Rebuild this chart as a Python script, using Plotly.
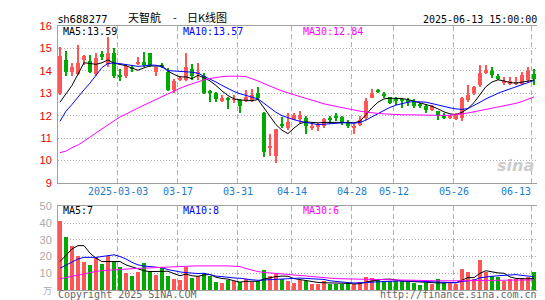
import plotly.graph_objects as go

# ---------------- data ----------------
dates = ["02-17","02-18","02-19","02-20","02-21","02-24","02-25","02-26","02-27","02-28",
         "03-03","03-04","03-05","03-06","03-07","03-10","03-11","03-12","03-13","03-14",
         "03-17","03-18","03-19","03-20","03-21","03-24","03-25","03-26","03-27","03-28",
         "03-31","04-01","04-02","04-03","04-07","04-08","04-09","04-10","04-11","04-14",
         "04-15","04-16","04-17","04-18","04-21","04-22","04-23","04-24","04-25","04-28",
         "04-29","04-30","05-06","05-07","05-08","05-09","05-12","05-13","05-14","05-15",
         "05-16","05-19","05-20","05-21","05-22","05-23","05-26","05-27","05-28","05-29",
         "05-30","06-03","06-04","06-05","06-06","06-09","06-10","06-11","06-12","06-13"]

opens = [13.01,14.49,13.93,13.85,14.49,14.44,13.85,14.75,14.31,14.81,
         13.82,13.75,14.16,14.32,14.41,14.81,13.93,14.26,13.97,13.16,
         13.61,13.60,14.07,13.87,13.79,13.10,12.99,12.66,12.75,12.70,
         12.70,12.67,12.67,13.02,12.11,10.60,10.20,11.60,11.44,11.82,
         11.86,11.90,11.45,11.50,11.55,11.87,11.96,11.94,11.70,11.48,
         11.60,11.90,12.80,13.12,12.95,12.83,12.72,12.72,12.68,12.63,
         12.50,12.41,12.26,12.19,12.03,11.92,11.86,11.90,12.70,13.00,
         13.38,13.90,13.98,13.77,13.50,13.40,13.45,13.43,13.60,13.87]
closes = [14.66,13.97,14.16,14.37,14.66,13.97,14.59,14.60,14.81,13.75,
          13.75,14.22,14.07,14.35,14.26,14.22,14.15,14.16,13.16,13.53,
          13.65,14.15,13.75,13.90,13.01,13.05,12.73,12.77,12.70,12.73,
          12.45,12.82,12.92,12.77,10.38,10.65,11.40,11.55,11.70,12.04,
          12.01,11.53,11.55,11.53,11.85,11.83,11.92,11.67,11.53,11.50,
          11.82,12.66,12.99,13.08,12.90,12.58,12.68,12.68,12.65,12.44,
          12.47,12.26,12.41,11.97,11.91,11.94,12.03,12.81,12.92,13.26,
          13.90,14.02,13.80,13.65,13.52,13.55,13.47,13.83,13.99,13.65]
highs = [15.07,14.90,14.34,15.15,14.70,14.70,14.81,14.90,15.51,15.00,
         14.07,14.26,14.26,14.63,14.85,14.81,14.19,14.34,14.12,13.63,
         13.75,14.81,14.29,14.34,13.90,13.14,13.05,12.90,12.85,12.92,
         12.75,13.14,13.17,13.30,12.15,11.20,11.40,11.94,12.11,12.11,
         12.19,11.97,11.67,11.67,11.90,12.00,12.11,12.00,11.82,11.64,
         12.00,12.77,13.17,13.20,13.05,12.85,12.85,12.77,12.77,12.73,
         12.58,12.53,12.48,12.19,12.12,12.03,12.12,12.85,13.36,13.32,
         14.24,14.24,14.17,13.87,13.73,13.73,13.73,13.95,14.17,14.09]
lows = [12.94,13.75,13.75,13.80,14.26,13.90,13.78,14.49,14.19,13.68,
        13.53,13.68,13.96,14.26,14.19,14.19,13.78,14.12,13.09,13.00,
        13.53,13.53,13.60,13.60,12.95,12.63,12.60,12.60,12.29,12.55,
        12.11,12.60,12.60,12.70,10.16,10.20,9.90,11.45,11.38,11.79,
        11.67,11.20,11.38,11.30,11.45,11.64,11.75,11.60,11.45,11.20,
        11.53,11.82,12.77,13.00,12.77,12.50,12.48,12.33,12.43,12.33,
        12.33,12.12,12.19,11.80,11.86,11.83,11.80,11.75,12.63,12.92,
        13.30,13.85,13.70,13.58,13.38,13.38,13.38,13.36,13.52,13.36]

ma5 = [12.60,12.95,13.35,13.85,14.36,14.33,14.29,14.36,14.49,14.34,
       14.30,14.23,14.12,14.03,14.13,14.22,14.21,14.23,13.99,13.84,
       13.73,13.73,13.65,13.80,13.69,13.55,13.35,13.10,12.90,12.75,
       12.70,12.67,12.67,12.72,12.35,11.95,11.60,11.35,11.20,11.45,
       11.65,11.72,11.70,11.68,11.70,11.70,11.70,11.72,11.70,11.68,
       11.75,12.05,12.35,12.60,12.75,12.78,12.78,12.76,12.72,12.65,
       12.58,12.48,12.42,12.30,12.17,12.08,12.05,12.15,12.32,12.58,
       12.92,13.30,13.50,13.60,13.55,13.48,13.45,13.50,13.56,13.59]
ma10 = [11.75,12.20,12.50,12.85,13.15,13.45,13.80,14.15,14.33,14.35,
        14.32,14.28,14.24,14.20,14.22,14.26,14.25,14.17,14.01,13.99,
        13.98,13.97,13.94,13.89,13.77,13.62,13.50,13.35,13.20,13.08,
        12.98,12.90,12.80,12.75,12.55,12.35,12.15,12.00,11.90,11.82,
        11.75,11.70,11.65,11.60,11.62,11.65,11.67,11.68,11.68,11.66,
        11.70,11.80,11.95,12.10,12.25,12.37,12.47,12.55,12.60,12.63,
        12.63,12.60,12.54,12.47,12.40,12.35,12.30,12.28,12.32,12.45,
        12.60,12.75,12.88,13.00,13.10,13.20,13.30,13.40,13.50,13.57]
ma30 = [10.35,10.42,10.57,10.69,10.86,11.06,11.23,11.41,11.60,11.79,
        11.94,12.07,12.22,12.34,12.47,12.60,12.72,12.84,12.97,13.10,
        13.22,13.33,13.43,13.52,13.60,13.66,13.71,13.74,13.76,13.77,
        13.76,13.74,13.65,13.55,13.43,13.32,13.20,13.10,13.02,12.95,
        12.85,12.77,12.68,12.60,12.53,12.47,12.41,12.36,12.31,12.26,
        12.20,12.16,12.12,12.10,12.08,12.06,12.05,12.04,12.04,12.03,
        12.03,12.02,12.02,12.01,12.01,12.02,12.04,12.08,12.12,12.17,
        12.22,12.27,12.32,12.37,12.42,12.48,12.55,12.63,12.73,12.84]

volumes = [41.3,31.3,26.0,20.0,16.5,14.8,19.5,15.2,20.0,16.7,
           13.6,10.0,8.3,10.6,15.7,11.2,8.9,12.8,8.3,6.3,
           6.0,13.5,7.3,8.0,10.2,8.0,4.5,3.8,6.0,5.0,
           4.5,6.5,4.5,5.5,11.7,8.5,9.5,6.3,5.0,4.3,
           5.9,5.3,3.3,3.7,5.3,3.7,3.3,3.3,4.3,3.3,
           4.9,7.9,7.3,6.7,5.3,5.3,5.3,5.0,5.0,4.3,
           3.0,4.3,3.3,6.3,4.3,4.3,3.3,12.2,10.8,6.3,
           17.7,10.6,8.3,7.9,5.5,6.5,6.5,7.0,7.5,10.8]
vma5 = [17,21,24.5,26.5,26.5,22,19,17,17,17,
        17,15,13.8,12.5,11.5,11,11,11.3,11.2,9.8,
        8.5,9.5,8.5,8.2,9,9.3,7.6,6.9,6.5,5.5,
        4.7,5.2,5.3,5.2,6.5,7.3,8,8.3,8.2,6.8,
        6.2,5.6,4.8,4.5,4.3,4.3,3.9,3.9,4,3.6,
        3.8,4.7,5.5,6,6.4,6.5,6,5.3,5.2,5,
        4.5,4.3,4,4.2,4.2,4.5,4.3,6.1,7.4,7.4,
        10,11.5,10.7,10.2,10,7.8,6.9,6.7,6.6,7]
vma10 = [13,15,17,18.5,19.5,19.5,19.5,20,20.5,21,
         20,18.5,16.5,15,14.3,14,13.8,13.3,12.2,11.3,
         10.8,10.4,10,9.8,10,9.2,8.3,8,7.5,7.2,
         7,6.4,6.1,5.8,6,6.1,6.5,6.7,6.8,7,
         7.1,6.9,6.6,6.5,6.3,5.5,5,4.7,4.4,4.2,
         4.2,4.4,4.7,5,5.2,5.2,5.4,5.5,5.4,5.4,
         5.2,5,4.7,4.7,4.5,4.4,4.3,5.1,5.7,5.9,
         7.3,7.9,8.2,8.5,8.6,8.9,9.2,8.7,8.3,8]
vma30 = [6.7,7.5,8.3,9.1,9.8,10.5,11.1,11.6,11.9,12.1,
         12.3,12.5,12.7,12.9,13.1,13.3,13.5,13.7,13.8,13.9,
         14.0,14.2,14.3,14.4,14.5,14.5,14.5,14.4,14.4,14.3,
         14.0,12.8,11.8,11.0,10.5,10.2,9.9,9.6,9.2,8.7,
         8.3,8.0,7.7,7.4,7.2,7.0,6.8,6.7,6.6,6.5,
         6.4,6.3,6.2,6.1,6.0,5.9,5.8,5.8,5.7,5.7,
         5.6,5.6,5.5,5.5,5.5,5.4,5.4,5.5,5.6,5.6,
         5.8,5.9,6.0,6.0,6.0,6.0,6.0,6.0,6.0,6.0]

tick_dates = ["03-03","03-17","03-31","04-14","04-28","05-12","05-26","06-13"]
tick_labels = ["2025-03-03","03-17","03-31","04-14","04-28","05-12","05-26","06-13"]
price_ticks = [9,10,11,12,13,14,15,16]
vol_ticks = [10,20,30,40,50]

# ---------------- style ----------------
RED = "#ff5555"
GREEN = "#00aa00"
BORDER = "#a0a0a0"
GRID = "#b0b0b0"
MONO = "DejaVu Sans Mono"
W, H = 545, 300
L, R, T, B = 50, 16, 18, 14
PW, PH = W - L - R, H - T - B


def px(x, y):
    return (x - L) / PW, (H - B - y) / PH


idx = list(range(len(dates)))
up = [c >= o for o, c in zip(opens, closes)]
colors = [RED if u else GREEN for u in up]
body_base = [min(o, c) for o, c in zip(opens, closes)]
body_h = [max(abs(c - o), 0.04) for o, c in zip(opens, closes)]
wick_h = [h - l for h, l in zip(highs, lows)]

fig = go.Figure()
fig.add_trace(go.Bar(x=idx, y=wick_h, base=lows, width=0.17, marker_color=colors,
                     marker_line_width=0, xaxis="x", yaxis="y", showlegend=False))
fig.add_trace(go.Bar(x=idx, y=body_h, base=body_base, width=0.8, marker_color=colors,
                     marker_line_width=0, xaxis="x", yaxis="y", showlegend=False))
for arr, col in ((ma5, "black"), (ma10, "#0000ff"), (ma30, "#ff00ff")):
    fig.add_trace(go.Scatter(x=idx, y=arr, mode="lines", line=dict(color=col, width=1),
                             xaxis="x", yaxis="y", showlegend=False))

fig.add_trace(go.Bar(x=idx, y=volumes, width=0.8, marker_color=colors, marker_line_width=0,
                     xaxis="x2", yaxis="y2", showlegend=False))
for arr, col in ((vma5, "black"), (vma10, "#0000ff"), (vma30, "#ff00ff")):
    fig.add_trace(go.Scatter(x=idx, y=arr, mode="lines", line=dict(color=col, width=1),
                             xaxis="x2", yaxis="y2", showlegend=False))

tick_pos = [dates.index(d) - 0.35 for d in tick_dates]
xr = [-0.33, len(dates) - 0.5]
xcommon = dict(range=xr, showgrid=True, gridcolor=GRID, griddash="5px,3px", gridwidth=1,
               tickvals=tick_pos, showticklabels=False, ticks="", zeroline=False,
               showline=True, mirror=True, linecolor=BORDER, linewidth=1, fixedrange=True)

_, p_lo = px(0, 177.3)
_, v_hi = px(0, 201)
fig.update_layout(
    width=W, height=H, margin=dict(l=L, r=R, t=T, b=B),
    paper_bgcolor="white", plot_bgcolor="white", barmode="overlay", bargap=0,
    xaxis=dict(domain=[0, 1], anchor="y", **xcommon),
    xaxis2=dict(domain=[0, 1], anchor="y2", **xcommon),
    yaxis=dict(domain=[p_lo, 1], range=[9, 16], tickvals=price_ticks,
               ticktext=[str(v) for v in price_ticks],
               tickfont=dict(family="Liberation Sans", size=11, color="#ee0000"),
               showgrid=True, gridcolor=GRID, griddash="1px,2px", zeroline=False,
               showline=True, mirror=True, linecolor=BORDER, linewidth=1, ticks="",
               ticklabelstandoff=3),
    yaxis2=dict(domain=[0, v_hi], range=[0, 50], tickvals=vol_ticks,
                ticktext=[str(v) for v in vol_ticks],
                tickfont=dict(family="Liberation Sans", size=11, color="#aaaaaa"),
                showgrid=True, gridcolor=GRID, griddash="1px,2px", zeroline=False,
                showline=True, mirror=True, linecolor=BORDER, linewidth=1, ticks="",
                ticklabelstandoff=3),
    showlegend=False,
)

ann = []


def text(x, y, s, color="black", size=10, family=MONO, anchor="left"):
    xp, yp = px(x, y)
    ann.append(dict(x=xp, y=yp, xref="paper", yref="paper", text=s, showarrow=False,
                    xanchor=anchor, yanchor="middle",
                    font=dict(family=family, size=size, color=color), borderpad=0))


text(49, 11.5, "sh688277", family="DejaVu Sans", size=10)
text(119, 9, "天智航", family="Noto Sans CJK SC", size=11)
text(167, 9, "-", family="Noto Sans CJK SC", size=11, anchor="center")
text(178, 9, "日K线图", family="Noto Sans CJK SC", size=11)
text(530, 11.5, "2025-06-13 15:00:00", anchor="right")
text(54, 23.5, "MA5:%.2f" % ma5[-1])
text(174, 23.5, "MA10:%.2f" % ma10[-1], color="#0000ff")
text(294, 23.5, "MA30:%.2f" % ma30[-1], color="#ff00ff")
text(54, 205.5, "MA5:%d" % round(vma5[-1]))
text(174, 205.5, "MA10:%d" % round(vma10[-1]), color="#0000ff")
text(294, 205.5, "MA30:%d" % round(vma30[-1]), color="#ff00ff")
text(49, 291, "Copyright 2025 SINA.COM", color="#666666")
text(530, 291, "http://finance.sina.com.cn", color="#666666", anchor="right")
text(45, 286, "万", color="#aaaaaa", family="Noto Sans CJK SC", size=9, anchor="right")
text(527, 160, "<b><i>sina</i></b>", color="#cccccc", family="DejaVu Sans", size=16, anchor="right")

_, ylab = px(0, 186.5)
for d, lab in zip(tick_dates, tick_labels):
    i = dates.index(d) - 0.35
    last = d == tick_dates[-1]
    ann.append(dict(x=i, y=ylab, xref="x", yref="paper", text=lab, showarrow=False,
                    xanchor="right" if last else "center", yanchor="middle", borderpad=0,
                    font=dict(family=MONO, size=10, color="#1a7ccc")))

fig.update_layout(annotations=ann)
fig.write_html("out.html")
